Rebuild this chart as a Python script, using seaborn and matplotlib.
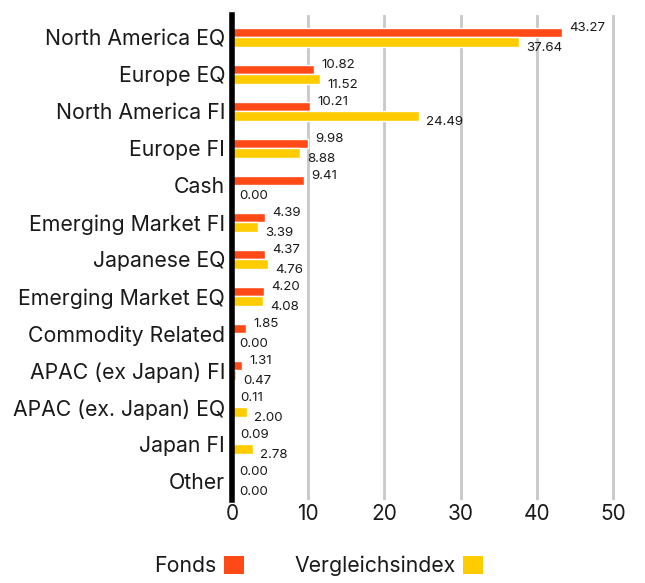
import matplotlib
matplotlib.use("Agg")
import matplotlib.pyplot as plt
import seaborn as sns
import pandas as pd
from matplotlib.patches import Patch

categories = ["North America EQ", "Europe EQ", "North America FI", "Europe FI", "Cash",
              "Emerging Market FI", "Japanese EQ", "Emerging Market EQ", "Commodity Related",
              "APAC (ex Japan) FI", "APAC (ex. Japan) EQ", "Japan FI", "Other"]
fonds = [43.27, 10.82, 10.21, 9.98, 9.41, 4.39, 4.37, 4.20, 1.85, 1.31, 0.11, 0.09, 0.00]
vergleich = [37.64, 11.52, 24.49, 8.88, 0.00, 3.39, 4.76, 4.08, 0.00, 0.47, 2.00, 2.78, 0.00]
series = ["Fonds", "Vergleichsindex"]
colors = ["#FF4A17", "#FFCC00"]
xticks = [0, 10, 20, 30, 40, 50]

df = pd.DataFrame({
    "cat": categories * 2,
    "val": fonds + vergleich,
    "series": [series[0]] * len(categories) + [series[1]] * len(categories),
})

sns.set_theme(style="white")
plt.rcParams["font.family"] = ["Inter", "DejaVu Sans"]

fig = plt.figure(figsize=(6.45, 5.83), dpi=100)
ax = fig.add_axes([0.3597, 0.1424, 0.6025, 0.832])

sns.barplot(data=df, y="cat", x="val", hue="series", hue_order=series,
            palette=colors, order=categories, orient="h", width=0.52,
            saturation=1, ax=ax, legend=False)

ax.set_xlim(0, 51)
ax.set_ylim(len(categories) - 0.5, -0.6)
ax.set_xticks(xticks)
ax.set_xlabel("")
ax.set_ylabel("")
ax.grid(axis="x", color="#c8c8c8", linewidth=2)
ax.set_axisbelow(True)
for s in ["top", "right", "bottom"]:
    ax.spines[s].set_visible(False)
ax.spines["left"].set_color("black")
ax.spines["left"].set_linewidth(4)
ax.spines["left"].set_zorder(5)
ax.tick_params(axis="both", length=0, colors="#1a1a1a")
ax.tick_params(axis="y", labelsize=15.3, pad=5)
ax.tick_params(axis="x", labelsize=15, pad=3)

offsets = [3.4, -4.2]
for cont, dy in zip(ax.containers, offsets):
    for p in cont:
        w = p.get_width()
        yc = p.get_y() + p.get_height() / 2
        ax.annotate(f"{w:.2f}", (w, yc), xytext=(5.2, dy), textcoords="offset points",
                    ha="left", va="center", fontsize=9.6, color="#1a1a1a",
                    annotation_clip=False)

handles = [Patch(facecolor=c, edgecolor="none") for c in colors]
fig.legend(handles, series, loc="center", bbox_to_anchor=(0.494, 0.029), ncol=2,
           frameon=False, markerfirst=False, fontsize=15.3, handlelength=0.94,
           handleheight=0.94, columnspacing=2.35, handletextpad=0.38,
           labelcolor="#1a1a1a")

fig.savefig("out.png", dpi=100)
